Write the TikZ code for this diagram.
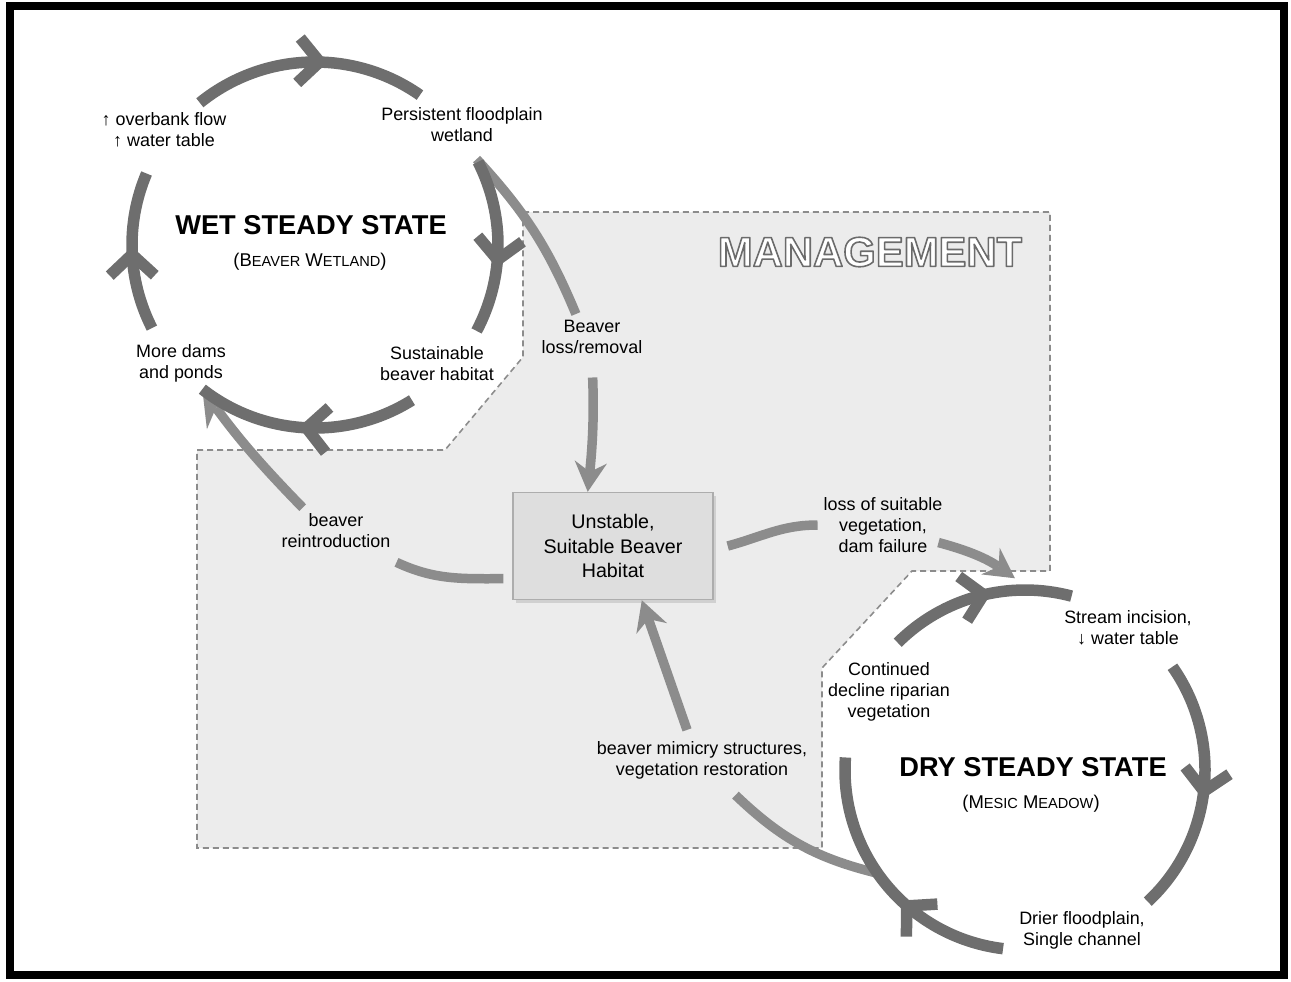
\documentclass[tikz,border=0pt]{standalone}
\usepackage{fontspec}
\setmainfont{Liberation Sans}
\usetikzlibrary{calc,arrows.meta,decorations.markings,shadows}
\definecolor{loopgray}{HTML}{6E6E6E}
\definecolor{mgmtgray}{HTML}{8C8C8C}
\definecolor{mgmtfill}{HTML}{ECECEC}
\definecolor{boxfill}{HTML}{DEDEDE}
\definecolor{boxline}{HTML}{ADADAD}
\def\ringarc[#1](#2)(#3:#4:#5){\draw[#1] (#2) ++(#3:#5) arc[start angle=#3, end angle=#4, radius=#5];}
\newcommand{\fsc}[2]{#1{\fontsize{8.3}{10}\selectfont #2}}
\newcommand{\glowtext}[1]{\special{pdf:literal direct 0.42 G 2 Tr 0.9 w 1 j}#1\special{pdf:literal direct 0 Tr}}

\begin{document}
\begin{tikzpicture}[x=0.02cm, y=0.02cm,
	cyclearrow/.style={line width=0.23cm, draw=loopgray, postaction={decorate},
		decoration={markings, mark=at position #1 with {\arrow[loopgray]{Straight Barb[length=0.42cm, width=0.9cm]}}}},
	cyclearrow/.default=0.5,
	mgmtline/.style={line width=0.19cm, draw=mgmtgray},
	mgmtarrow/.style={mgmtline, -{Stealth[length=0.6cm, width=0.65cm, inset=0.2cm, line width=0pt]}},
	bighead/.style={-{Stealth[length=0.7cm, width=0.8cm, inset=0.24cm, line width=0pt]}},
	mgmtarea/.style={draw=mgmtgray, fill=mgmtfill, line width=0.9pt, dash pattern=on 0.12cm off 0.08cm},
	lbl/.style={align=center, font=\fontsize{10.2}{12}\selectfont},
	title/.style={font=\bfseries\fontsize{15.5}{18}\selectfont},
	subtitle/.style={font=\fontsize{10.5}{12}\selectfont},
	habitat/.style={draw=boxline, fill=boxfill, line width=0.8pt, minimum width=4cm, minimum height=2.14cm,
		align=center, font=\fontsize{11.2}{14.2}\selectfont,
		drop shadow={opacity=0.25, shadow xshift=0.06cm, shadow yshift=-0.06cm}},
	mgmtlbl/.style={font=\bfseries\fontsize{23.8}{28}\selectfont, text=white}]
		%%%%% START %%%%%
		\useasboundingbox (0,0) rectangle (1291,-981);
		\draw[line width=0.16cm] (10,-6) rectangle (1284,-975);
		
		% management area
		\draw[mgmtarea] (523,-212) -- (1050,-212) -- (1050,-571) -- (912,-571) -- (822,-668) -- (822,-848)
			-- (197,-848) -- (197,-450) -- (445,-450) -- (523,-357) -- cycle;
		
		\coordinate (wet) at (315,-245);
		\coordinate (dry) at (1025,-770);
		\coordinate (wetOut) at ($(wet)+(28:183)$);
		\coordinate (wetIn) at ($(wet)+(232:183)$);
		\coordinate (dryIn) at ($(dry)+(93:192)$);
		\coordinate (dryOut) at ($(dry)+(215:180)$);
		
		\node[mgmtlbl] (mgmt) at (870,-252) {\glowtext{MANAGEMENT}};
		
		\node[habitat] (habitat) at (613,-546) {Unstable,\\Suitable Beaver\\Habitat};
		
		\node[lbl] (lossLbl) at (592,-337) {Beaver\\loss/removal};
		\node[lbl] (reintro) at (336,-531) {beaver\\reintroduction};
		\node[lbl] (vegLoss) at (883,-525) {loss of suitable\\vegetation,\\dam failure};
		\node[lbl] (mimicry) at (702,-760) {beaver mimicry structures,\\vegetation restoration};
		
		% management connectors
		\draw[mgmtline] (wetOut) to[bend left=10] (lossLbl.125);
		\draw[mgmtarrow, shorten <=0.35cm] (lossLbl.south) to[bend left=4] (habitat.115);
		\draw[mgmtline] ([xshift=-0.18cm]habitat.198) to[out=180, in=-25] ([yshift=-0.16cm]reintro.south east);
		\draw[mgmtarrow, bighead] (reintro.145) to[bend left=4] (wetIn);
		\draw[mgmtline] ([xshift=0.28cm]habitat.east) to[out=15, in=180] (vegLoss.west);
		\draw[mgmtarrow] ([xshift=-0.2cm]vegLoss.-15) to[out=-15, in=145] (dryIn);
		\draw[mgmtline] (dryOut) to[bend left=15] ([shift={(-0.2cm,-0.2cm)}]mimicry.-30);
		\draw[mgmtarrow] ([shift={(-0.3cm,0.1cm)}]mimicry.north) to (habitat.-62);
		
		% wet steady state
		\ringarc[cyclearrow=0.58](wet)(129:55:183)
		\ringarc[cyclearrow=0.62](wet)(27:-28:183)
		\ringarc[cyclearrow=0.53](wet)(-58:-128:183)
		\ringarc[cyclearrow=0.53](wet)(207:157:183)
		
		\node[title] (wetTitle) at (311,-225) {WET STEADY STATE};
		\node[subtitle] (wetSub) at (310,-262) {(\fsc{B}{EAVER} \fsc{W}{ETLAND})};
		\node[lbl] (overbank) at (164,-130) {↑ overbank flow\\↑ water table};
		\node[lbl] (persist) at (462,-125) {Persistent floodplain\\wetland};
		\node[lbl] (moreDams) at (181,-363) {More dams\\and ponds};
		\node[lbl] (sustain) at (437,-364) {Sustainable\\beaver habitat};
		
		% dry steady state
		\ringarc[cyclearrow=0.57](dry)(135:75:180)
		\ringarc[cyclearrow=0.54](dry)(35:-47:180)
		\ringarc[cyclearrow=0.42](dry)(263:176:180)
		
		\node[title] (dryTitle) at (1033,-767) {DRY STEADY STATE};
		\node[subtitle] (drySub) at (1031,-804) {(\fsc{M}{ESIC} \fsc{M}{EADOW})};
		\node[lbl] (incision) at (1128,-628) {Stream incision,\\↓ water table};
		\node[lbl] (decline) at (889,-692) {Continued\\decline riparian\\vegetation};
		\node[lbl] (drier) at (1082,-930) {Drier floodplain,\\Single channel};
		%%%%% END %%%%%
\end{tikzpicture}
\end{document}
